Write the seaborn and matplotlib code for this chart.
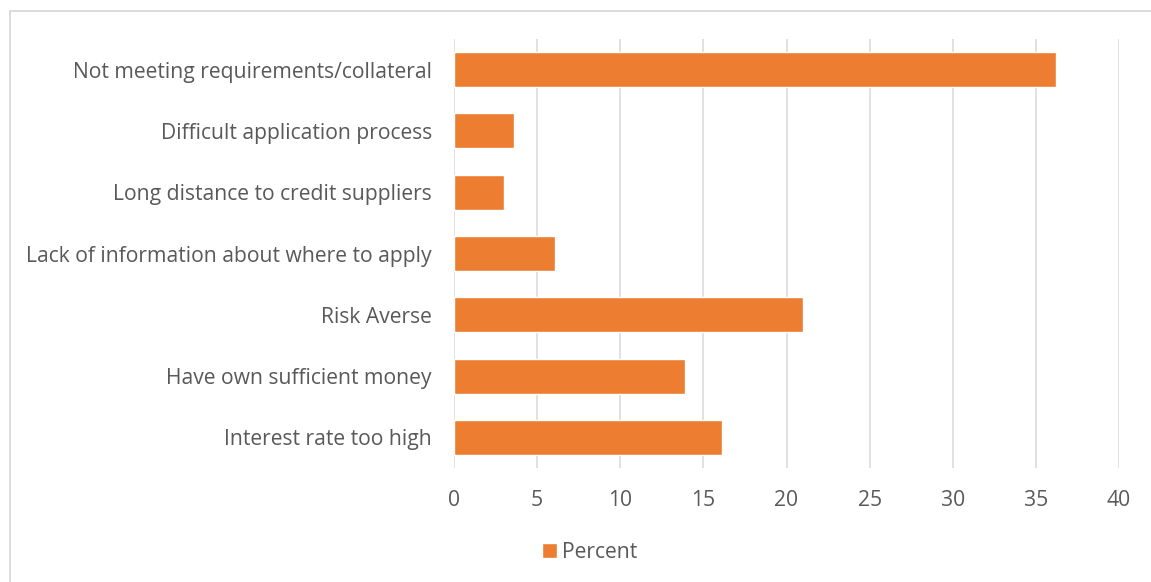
import matplotlib
matplotlib.use("Agg")
import matplotlib.pyplot as plt
from matplotlib.patches import Rectangle
import seaborn as sns
import pandas as pd

# Reasons for not applying for credit (percent of respondents)
reasons = [
    "Not meeting requirements/collateral",
    "Difficult application process",
    "Long distance to credit suppliers",
    "Lack of information about where to apply",
    "Risk Averse",
    "Have own sufficient money",
    "Interest rate too high",
]
percent = [36.2, 3.6, 3.0, 6.1, 21.0, 13.9, 16.1]
x_ticks = [0, 5, 10, 15, 20, 25, 30, 35, 40]
series_name = "Percent"

BAR_COLOR = "#ED7D31"
GRID_COLOR = "#D9D9D9"
TEXT_COLOR = "#595959"
FONT_SIZE = 15.2

sns.set_theme(style="white")
plt.rcParams["font.family"] = ["Open Sans", "DejaVu Sans"]

df = pd.DataFrame({"reason": reasons, "value": percent, "series": series_name})

fig = plt.figure(figsize=(11.51, 5.82), dpi=100)
fig.patch.set_facecolor("white")

# outer chart frame
fig.patches.append(Rectangle((9.5 / 1151, -0.1), 1.2, 1 - 10.5 / 582 + 0.1,
                             transform=fig.transFigure, fill=False,
                             edgecolor=GRID_COLOR, linewidth=1.3))

ax = fig.add_axes([454 / 1151, 1 - 468 / 582, 665 / 1151, 429 / 582])
sns.barplot(data=df, x="value", y="reason", hue="series", palette=[BAR_COLOR],
            saturation=1, orient="h", width=0.57, ax=ax, legend=True, zorder=3)

ax.set_xlim(0, 40)
ax.set_xticks(x_ticks)
ax.set_xticklabels([str(t) for t in x_ticks])
ax.set_xlabel("")
ax.set_ylabel("")
for s in ax.spines.values():
    s.set_visible(False)
ax.grid(False)
for t in x_ticks:
    ax.axvline(t, color=GRID_COLOR, linewidth=1.1, zorder=1)

ax.tick_params(axis="x", length=0, pad=15.5, labelsize=FONT_SIZE, labelcolor=TEXT_COLOR)
ax.tick_params(axis="y", length=0, pad=16, labelsize=FONT_SIZE, labelcolor=TEXT_COLOR)

handles, labels = ax.get_legend_handles_labels()
ax.get_legend().remove()
fig.legend(handles, labels, loc="center", bbox_to_anchor=(590 / 1151, 1 - 552 / 582),
           frameon=False, fontsize=FONT_SIZE, labelcolor=TEXT_COLOR,
           handlelength=0.7, handleheight=0.7, handletextpad=0.25)

fig.savefig("out.png", dpi=100)
